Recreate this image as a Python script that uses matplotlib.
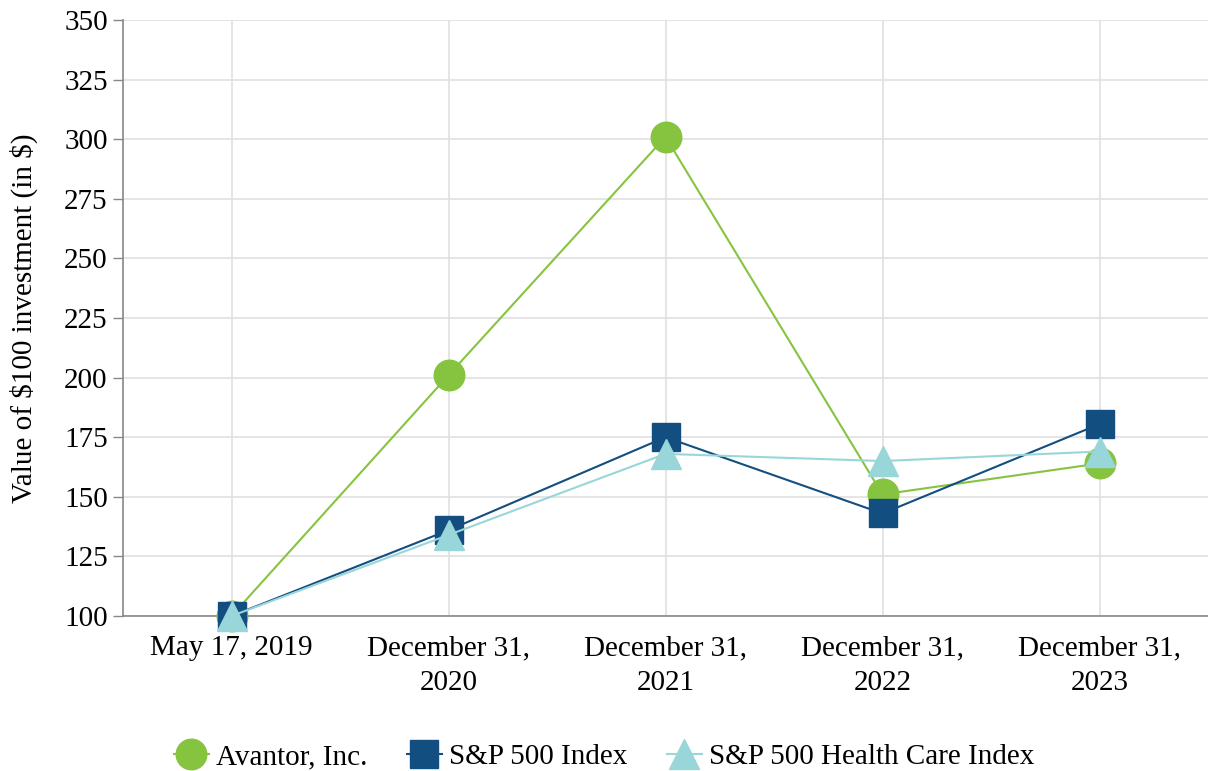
import matplotlib
matplotlib.use("Agg")
import matplotlib.pyplot as plt
from matplotlib.lines import Line2D

categories = ["May 17, 2019", "December 31,\n2020", "December 31,\n2021",
              "December 31,\n2022", "December 31,\n2023"]
avantor = [100, 201, 301, 151, 164]
sp500 = [100, 136, 175, 143, 180.5]
sp500_hc = [100, 134, 168, 165, 169]
yticks = [100, 125, 150, 175, 200, 225, 250, 275, 300, 325, 350]

plt.rcParams['font.family'] = ['Liberation Serif', 'DejaVu Serif']
plt.rcParams['text.parse_math'] = False

fig = plt.figure(figsize=(12.08, 7.71), dpi=100)
ax = fig.add_axes([123/1208, 1 - 616/771, (1208 - 123)/1208, (616 - 20)/771])

x = list(range(len(categories)))
green = '#86C440'
navy = '#124E80'
teal = '#99D6D9'

fs = 21

ax.plot(x, avantor, color=green, lw=1.5, marker='o', ms=22, zorder=3, clip_on=False)
ax.plot(x, sp500, color=navy, lw=1.5, marker='s', ms=20, zorder=4, clip_on=False)
ax.plot(x, sp500_hc, color=teal, lw=1.5, marker='^', ms=21, zorder=5, clip_on=False)

ax.set_xlim(-0.5, 4.5)
ax.set_ylim(100, 350)
ax.set_yticks(yticks)
ax.set_xticks(x)
ax.set_xticklabels(categories, fontsize=fs, linespacing=1.45)
ax.tick_params(axis='y', labelsize=fs, length=7, color='#888888', width=1, pad=4)
ax.tick_params(axis='x', length=0, pad=14)
ax.grid(True, color='#e0e0e0', lw=1.2, zorder=0)
ax.set_axisbelow(True)
for s in ['top', 'right']:
    ax.spines[s].set_visible(False)
for s in ['left', 'bottom']:
    ax.spines[s].set_color('#888888')
    ax.spines[s].set_linewidth(1.2)
ax.set_ylabel("Value of $100 investment (in $)", fontsize=fs, labelpad=19)

handles = [
    Line2D([], [], color=green, lw=1.5, marker='o', ms=22),
    Line2D([], [], color=navy, lw=1.5, marker='s', ms=20),
    Line2D([], [], color=teal, lw=1.5, marker='^', ms=21),
]
fig.legend(handles, ["Avantor, Inc.", "S&P 500 Index", "S&P 500 Health Care Index"],
           loc='center', bbox_to_anchor=(0.5, 1 - 757/771), ncol=3, frameon=False,
           fontsize=fs, handlelength=1.2, columnspacing=1.35, handletextpad=0.25)

fig.savefig("out.png", dpi=100)
